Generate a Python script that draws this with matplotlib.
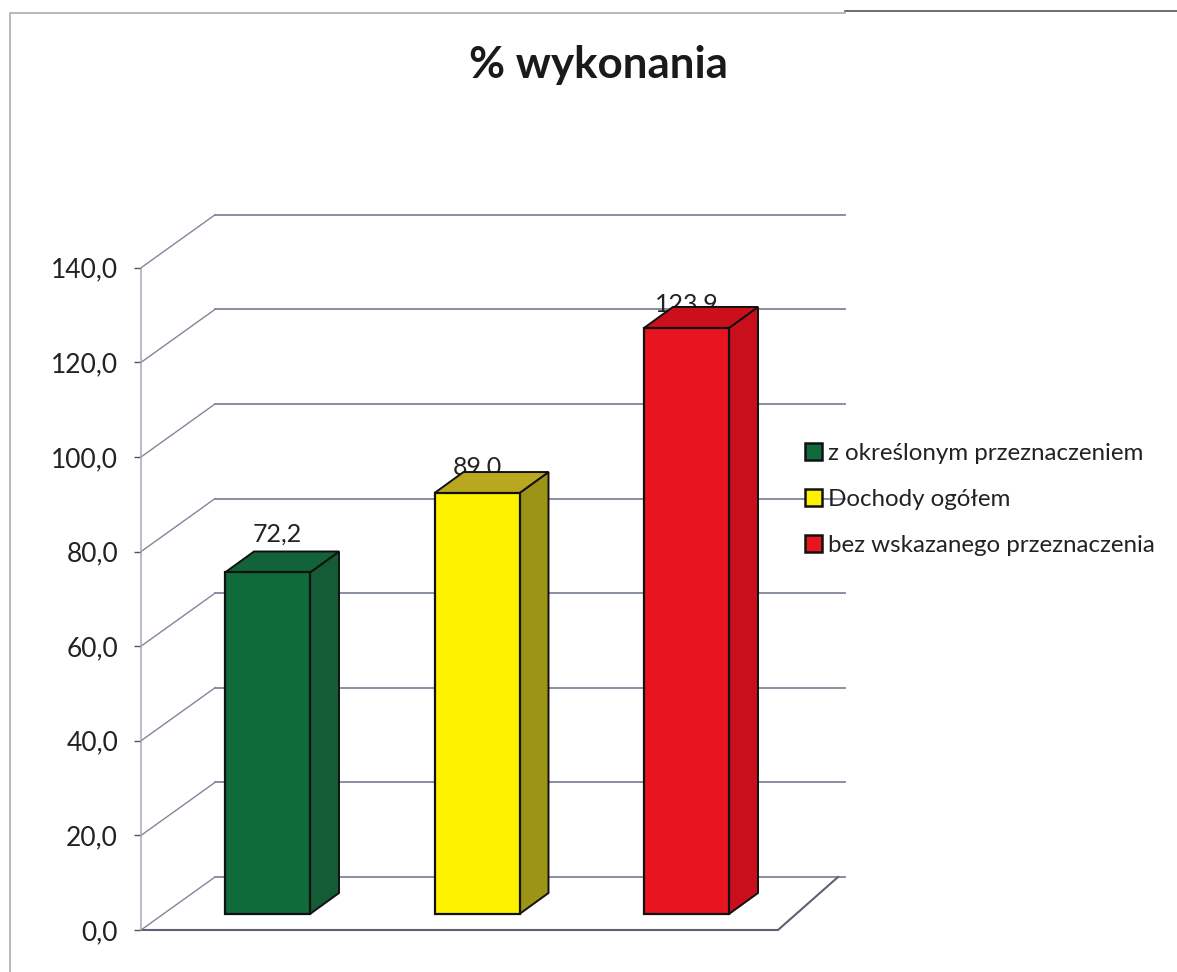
import matplotlib
matplotlib.use("Agg")
import matplotlib.pyplot as plt
from matplotlib.patches import Polygon, Patch
from matplotlib.lines import Line2D

categories = ["z określonym przeznaczeniem", "Dochody ogółem", "bez wskazanego przeznaczenia"]
values = [72.2, 89.0, 123.9]
value_labels = ["72,2", "89,0", "123,9"]
yticks = [0, 20, 40, 60, 80, 100, 120, 140]
ytick_labels = ["0,0", "20,0", "40,0", "60,0", "80,0", "100,0", "120,0", "140,0"]
title = "% wykonania"

front_colors = ["#0f6b3a", "#fff200", "#e8141f"]
side_colors = ["#145c35", "#9c9414", "#c80f1b"]
top_colors = ["#12633a", "#b9a81f", "#cb101c"]

W, H = 1177, 972
PX_PER_UNIT = 4.73
PX_PER_CAT = 209.5
GRID = "#7f879b"

plt.rcParams["font.family"] = ["Lato", "DejaVu Sans"]
fig = plt.figure(figsize=(W / 100, H / 100), dpi=100, facecolor="white")
ax = fig.add_axes([141 / W, (H - 930) / H, (845 - 141) / W, (930 - 215) / H])
ax.set_xlim((141 - 267.5) / PX_PER_CAT, (845 - 267.5) / PX_PER_CAT)
ax.set_ylim(0, 715 / PX_PER_UNIT)
ax.patch.set_alpha(0)

# 3D offsets, expressed in data units
wall_dx, wall_dy = 74 / PX_PER_CAT, 53 / PX_PER_UNIT
bar_dx, bar_dy = 29 / PX_PER_CAT, 21 / PX_PER_UNIT
bar_base = 16 / PX_PER_UNIT
bar_w = 85 / PX_PER_CAT
x0 = ax.get_xlim()[0]
x1 = ax.get_xlim()[1]

for s in ["top", "right", "bottom", "left"]:
    ax.spines[s].set_visible(False)
ax.spines["left"].set_visible(True)
ax.spines["left"].set_bounds(0, 140)
ax.spines["left"].set_color("#a3aabb")
ax.spines["left"].set_linewidth(1.1)
ax.set_xticks([])
ax.set_yticks(yticks)
ax.set_yticklabels(ytick_labels, fontsize=19, color="#222222")
ax.tick_params(axis="y", length=5, width=1.0, color="#555555", pad=11.5)

# back wall gridlines and side wall diagonals
for t in yticks:
    ax.plot([x0 + wall_dx, x1], [t + wall_dy] * 2, color=GRID, lw=1.3, zorder=1, clip_on=False)
    ax.plot([x0, x0 + wall_dx], [t, t + wall_dy], color=GRID, lw=1.0, zorder=1, clip_on=False)

# floor
floor_end = (778 - 267.5) / PX_PER_CAT
ax.plot([x0, floor_end, floor_end + 60 / PX_PER_CAT], [0, 0, wall_dy],
        color="#5c6272", lw=1.5, zorder=1, clip_on=False)

# data labels sit beneath the bars, whose top faces partly hide them
label_offsets = [9.5, 0, 0]
label_y = [534, 467, 304]
for i, lab in enumerate(value_labels):
    ax.text(i + label_offsets[i] / PX_PER_CAT, (930 - label_y[i]) / PX_PER_UNIT, lab,
            ha="center", va="center", fontsize=18, color="#222222", zorder=2)

for i, v in enumerate(values):
    l, r = i - bar_w / 2, i + bar_w / 2
    b, t = bar_base, bar_base + v
    ax.bar(i, v, width=bar_w, bottom=b, color=front_colors[i], edgecolor="#111111", lw=1.6, zorder=4)
    ax.add_patch(Polygon([(r, b), (r + bar_dx, b + bar_dy), (r + bar_dx, t + bar_dy), (r, t)],
                         closed=True, fc=side_colors[i], ec="#111111", lw=1.4, zorder=3))
    ax.add_patch(Polygon([(l, t), (l + bar_dx, t + bar_dy), (r + bar_dx, t + bar_dy), (r, t)],
                         closed=True, fc=top_colors[i], ec="#111111", lw=1.4, zorder=3))

handles = [Patch(facecolor=c, edgecolor="#111111", linewidth=1.8) for c in front_colors]
leg = fig.legend(handles, categories, loc="upper left", bbox_to_anchor=(797 / W, (H - 434.5) / H),
                 frameon=False, fontsize=17.4, labelcolor="#222222", handlelength=0.7,
                 handleheight=0.7, handletextpad=0.25, labelspacing=1.04, borderpad=0.35,
                 borderaxespad=0)
leg.set_zorder(6)

fig.text(598.5 / W, (H - 65) / H, title, ha="center", va="center", fontsize=31.6,
         fontweight="bold", color="#1a1a1a")

# scanned page frame
fig.add_artist(Line2D([10 / W, 10 / W, 845 / W], [0, (H - 13) / H, (H - 13) / H],
                      color="#a8adb5", lw=1.2))
fig.add_artist(Line2D([845 / W, 1 - 1e-4], [(H - 11) / H] * 2, color="#555555", lw=1.2))

fig.savefig("out.png", dpi=100)
